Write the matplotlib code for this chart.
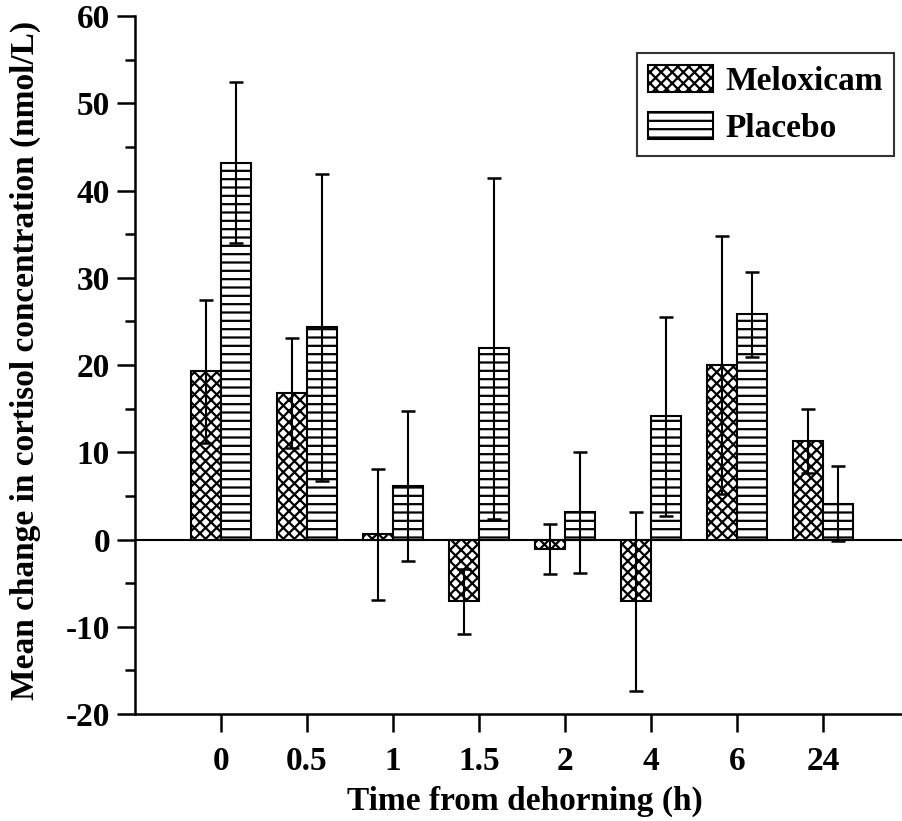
import numpy as np
import matplotlib
matplotlib.use("Agg")
import matplotlib.pyplot as plt
from matplotlib.ticker import MultipleLocator

# Data
times = ["0", "0.5", "1", "1.5", "2", "4", "6", "24"]
meloxicam = [19.3, 16.8, 0.6, -7.1, -1.1, -7.1, 20.0, 11.3]
meloxicam_err = [8.2, 6.3, 7.5, 3.7, 2.9, 10.3, 14.8, 3.7]
placebo = [43.2, 24.3, 6.1, 21.9, 3.1, 14.1, 25.8, 4.1]
placebo_err = [9.2, 17.6, 8.6, 19.5, 6.9, 11.4, 4.9, 4.3]

plt.rcParams['font.family'] = ['Liberation Serif', 'DejaVu Serif']
plt.rcParams['font.weight'] = 'bold'
plt.rcParams['hatch.linewidth'] = 1.6
plt.rcParams['axes.unicode_minus'] = False

fig = plt.figure(figsize=(9.02, 8.21), dpi=100)
ax = fig.add_axes([0.1497, 0.1303, 1 - 0.1497, 0.8502])

x = np.arange(len(times))
w = 0.35

ax.bar(x - w / 2, meloxicam, w, color='white', edgecolor='black', linewidth=1.5,
       hatch='xxx', label='Meloxicam', zorder=2)
ax.bar(x + w / 2, placebo, w, color='white', edgecolor='black', linewidth=1.5,
       hatch='--', label='Placebo', zorder=2)

ax.errorbar(x - w / 2, meloxicam, yerr=meloxicam_err, fmt='none', ecolor='black',
            elinewidth=1.5, capsize=5, capthick=1.8, zorder=3)
ax.errorbar(x + w / 2, placebo, yerr=placebo_err, fmt='none', ecolor='black',
            elinewidth=1.5, capsize=5, capthick=1.8, zorder=3)

ax.axhline(0, color='black', linewidth=1.5, zorder=1)

ax.set_xlim(-1, 7.92)
ax.set_ylim(-20, 60)
ax.set_xticks(x)
ax.set_xticklabels(times)
ax.yaxis.set_major_locator(MultipleLocator(10))
ax.yaxis.set_minor_locator(MultipleLocator(5))

for s in ['top', 'right']:
    ax.spines[s].set_visible(False)
for s in ['left', 'bottom']:
    ax.spines[s].set_linewidth(1.8)

ax.tick_params(axis='both', which='major', direction='out', length=13, width=1.8,
               labelsize=24)
ax.tick_params(axis='y', which='major', pad=5)
ax.tick_params(axis='x', which='major', pad=10)
ax.tick_params(axis='y', which='minor', direction='out', length=7, width=1.8)

ax.set_xlabel('Time from dehorning (h)', fontsize=24, fontweight='bold')
ax.set_ylabel('Mean change in cortisol concentration (nmol/L)', fontsize=24,
              fontweight='bold')
ax.xaxis.set_label_coords(0.508, -0.103)
ax.yaxis.set_label_coords(-0.122, 0.506)

leg = ax.legend(loc='upper right', bbox_to_anchor=(0.99, 0.947), fontsize=24,
                frameon=True, fancybox=False, edgecolor='black',
                handlelength=1.95, handleheight=0.88, borderpad=0.35,
                labelspacing=0.45, handletextpad=0.35, borderaxespad=0)
leg.get_frame().set_linewidth(1.5)

fig.savefig('out.png', dpi=100)
